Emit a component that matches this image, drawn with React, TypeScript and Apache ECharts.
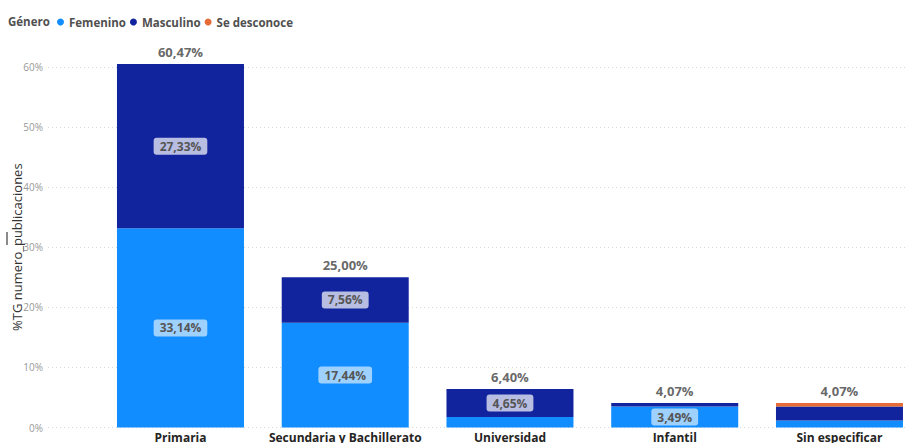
import React, { useEffect, useRef } from "react";
import * as echarts from "echarts";

const categories = ["Primaria", "Secundaria y Bachillerato", "Universidad", "Infantil", "Sin especificar"];
const femenino = [33.14, 17.44, 1.75, 3.49, 1.16];
const masculino = [27.33, 7.56, 4.65, 0.58, 2.33];
const seDesconoce = [0, 0, 0, 0, 0.58];
const totals = [60.47, 25.0, 6.4, 4.07, 4.07];
// which segment labels are visible (as in the reference)
const femeninoLabelShown = [true, true, false, true, false];
const masculinoLabelShown = [true, true, true, false, false];
const yTicks = [0, 10, 20, 30, 40, 50, 60];

const FONT = "'Open Sans', 'Noto Sans', sans-serif";
const fmt = (v: number) => v.toFixed(2).replace(".", ",") + "%";

export default function App() {
  const ref = useRef<HTMLDivElement>(null);
  useEffect(() => {
    document.body.style.margin = "0";
    if (!ref.current) return;
    const chart = echarts.init(ref.current, null, { renderer: "svg" });
    const innerLabel = (bg: string) => ({
      show: true,
      position: "inside",
      formatter: (p: any) => fmt(p.value),
      color: "#555555",
      fontFamily: FONT,
      fontWeight: "bold",
      fontSize: 12,
      backgroundColor: bg,
      borderRadius: 3,
      padding: [3, 6, 2, 6],
    });
    const buildData = (vals: number[], shown: boolean[]) =>
      vals.map((v, i) => ({ value: v, label: { show: shown[i] } }));

    chart.setOption({
      animation: false,
      textStyle: { fontFamily: FONT },
      grid: [
        { left: 48, right: 5, top: 66.8, bottom: 15.5, outerBoundsMode: "none", containLabel: false },
        {
          left: 98.1,
          width: 823.75,
          top: 427.5 - 65 * 6.01,
          bottom: 15.5,
          outerBoundsMode: "none",
          containLabel: false,
        },
      ],
      legend: {
        left: 57,
        top: 16,
        padding: 0,
        icon: "circle",
        itemWidth: 7,
        itemHeight: 7,
        itemGap: 4,
        textStyle: { color: "#505050", fontSize: 11.5, fontWeight: "bold", fontFamily: FONT },
        data: ["Femenino", "Masculino", "Se desconoce"],
      },
      graphic: [
        {
          type: "text",
          left: 8,
          top: 15,
          style: { text: "Género", fill: "#505050", font: `bold 11.5px ${FONT}` },
        },
        { type: "rect", shape: { x: 6, y: 232, width: 2, height: 13 }, style: { fill: "#8a8a8a" } },
      ],
      xAxis: [
        { type: "value", gridIndex: 0, show: false, min: 0, max: 1 },
        {
          type: "category",
          gridIndex: 1,
          data: categories,
          axisLine: { show: false },
          axisTick: { show: false },
          axisLabel: {
            color: "#252423",
            fontSize: 12,
            fontWeight: "bold",
            fontFamily: FONT,
            margin: 4,
            interval: 0,
          },
        },
      ],
      yAxis: [
        {
          type: "value",
          gridIndex: 0,
          min: 0,
          max: 60,
          interval: 10,
          name: "%TG numero_publicaciones",
          nameLocation: "middle",
          nameGap: 25,
          nameMoveOverlap: false,
          nameTextStyle: { color: "#333333", fontSize: 13, fontFamily: FONT },
          axisLine: { show: false },
          axisTick: { show: false },
          axisLabel: {
            color: "#999999",
            fontSize: 10,
            fontFamily: FONT,
            margin: 5,
            formatter: (v: number) => (yTicks.includes(v) ? v + "%" : ""),
          },
          splitLine: { lineStyle: { color: "#d8d8d8", type: [1, 3], width: 1 } },
        },
        { type: "value", gridIndex: 1, min: 0, max: 65, show: false, splitLine: { show: false } },
      ],
      series: [
        {
          name: "Femenino",
          type: "bar",
          stack: "g",
          xAxisIndex: 1,
          yAxisIndex: 1,
          barWidth: 127,
          itemStyle: { color: "#118DFF" },
          label: innerLabel("rgba(255,255,255,0.6)"),
          data: buildData(femenino, femeninoLabelShown),
        },
        {
          name: "Masculino",
          type: "bar",
          stack: "g",
          xAxisIndex: 1,
          yAxisIndex: 1,
          barWidth: 127,
          itemStyle: { color: "#12239E" },
          label: innerLabel("rgba(255,255,255,0.7)"),
          data: buildData(masculino, masculinoLabelShown),
        },
        {
          name: "Se desconoce",
          type: "bar",
          stack: "g",
          xAxisIndex: 1,
          yAxisIndex: 1,
          barWidth: 127,
          itemStyle: { color: "#E66C37" },
          data: seDesconoce,
        },
        {
          name: "Total",
          type: "scatter",
          xAxisIndex: 1,
          yAxisIndex: 1,
          symbolSize: 0,
          silent: true,
          label: {
            show: true,
            position: "top",
            distance: 6,
            formatter: (p: any) => fmt(p.value),
            color: "#404040",
            fontSize: 13,
            fontWeight: "bold",
            fontFamily: FONT,
          },
          data: totals,
        },
      ],
    });
    return () => chart.dispose();
  }, []);
  return <div ref={ref} style={{ width: 910, height: 443 }} />;
}
